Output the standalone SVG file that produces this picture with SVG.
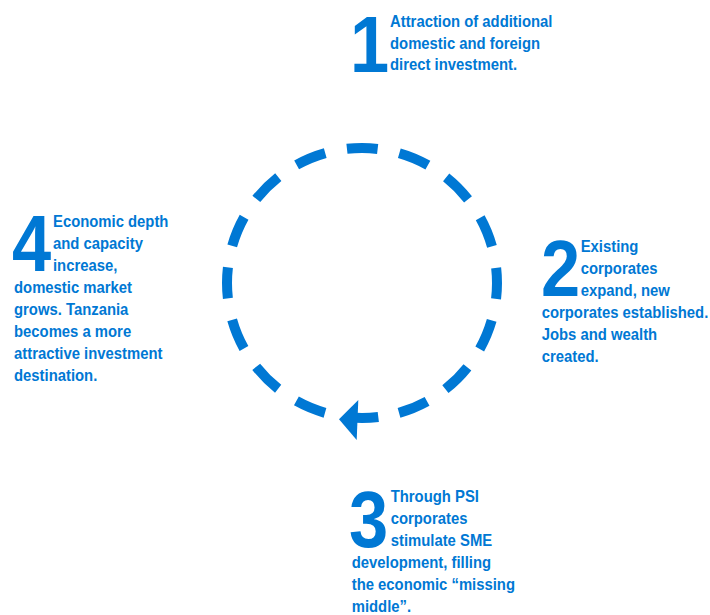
<svg xmlns="http://www.w3.org/2000/svg" width="710" height="615" viewBox="0 0 710 615">
  <style>
    .txt { font-family: "Liberation Sans", Arial, sans-serif; font-weight: bold; fill: #0078d4; }
    .body { font-size: 16.5px; }
    .num { font-size: 80px; }
    .ring { fill: none; stroke: #0078d4; stroke-width: 10; stroke-linecap: butt; }
  </style>
  <rect width="710" height="615" fill="#ffffff"/>

  <!-- dashed cycle ring with arrow at the bottom -->
  <g id="connectors">
    <path class="ring" stroke-dasharray="31 22.015" d="M324.97,412.82 A135,135 0 0 1 362,148 A135,135 0 0 1 399.03,412.82"/>
    <path class="ring" d="M378.3,417.01 A135,135 0 0 1 356.1,417.87"/>
    <polygon points="339,419.3 358.3,400 356.7,440" fill="#0078d4"/>
  </g>

  <!-- condensed lettering: glyphs narrowed horizontally -->
  <g id="step1" class="txt">
    <g transform="translate(350 0) scale(0.88 1)"><text class="num" x="0" y="71.5">1</text></g>
    <g transform="translate(390 0) scale(0.9 1)">
      <text class="body" x="0" y="26.7">Attraction of additional</text>
      <text class="body" x="0" y="48.6">domestic and foreign</text>
      <text class="body" x="0" y="70.5">direct investment.</text>
    </g>
  </g>

  <g id="step2" class="txt">
    <g transform="translate(541 0) scale(0.88 1)"><text class="num" x="0" y="295.7">2</text></g>
    <g transform="translate(580.7 0) scale(0.9 1)">
      <text class="body" x="0" y="252.3">Existing</text>
      <text class="body" x="0" y="274.2">corporates</text>
      <text class="body" x="0" y="296.1">expand, new</text>
    </g>
    <g transform="translate(541.7 0) scale(0.9 1)">
      <text class="body" x="0" y="318">corporates established.</text>
      <text class="body" x="0" y="339.9">Jobs and wealth</text>
      <text class="body" x="0" y="361.8">created.</text>
    </g>
  </g>

  <g id="step3" class="txt">
    <g transform="translate(349 0) scale(0.88 1)"><text class="num" x="0" y="547">3</text></g>
    <g transform="translate(390.7 0) scale(0.9 1)">
      <text class="body" x="0" y="502.3">Through PSI</text>
      <text class="body" x="0" y="524.2">corporates</text>
      <text class="body" x="0" y="546.1">stimulate SME</text>
    </g>
    <g transform="translate(351.7 0) scale(0.9 1)">
      <text class="body" x="0" y="568">development, filling</text>
      <text class="body" x="0" y="589.9">the economic “missing</text>
      <text class="body" x="0" y="611.8">middle”.</text>
    </g>
  </g>

  <g id="step4" class="txt">
    <g transform="translate(12 0) scale(0.88 1)"><text class="num" x="0" y="270.8">4</text></g>
    <g transform="translate(53 0) scale(0.9 1)">
      <text class="body" x="0" y="226.7">Economic depth</text>
      <text class="body" x="0" y="248.8">and capacity</text>
      <text class="body" x="0" y="270.9">increase,</text>
    </g>
    <g transform="translate(14 0) scale(0.9 1)">
      <text class="body" x="0" y="293">domestic market</text>
      <text class="body" x="0" y="315.1">grows. Tanzania</text>
      <text class="body" x="0" y="337.2">becomes a more</text>
      <text class="body" x="0" y="359.3">attractive investment</text>
      <text class="body" x="0" y="381.4">destination.</text>
    </g>
  </g>
</svg>
